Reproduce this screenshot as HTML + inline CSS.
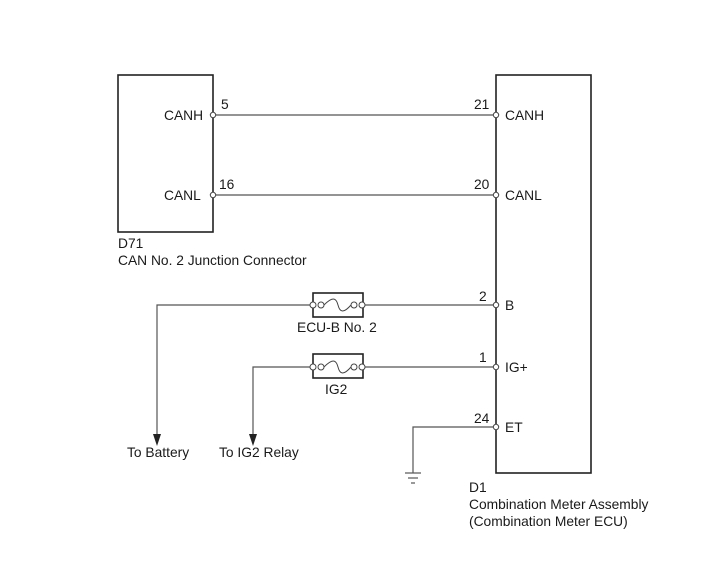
<!DOCTYPE html>
<html><head><meta charset="utf-8"><style>
html,body{margin:0;padding:0;background:#fff;}
svg{display:block;}
text{font-family:"Liberation Sans",Arial,sans-serif;font-size:13.8px;fill:#1a1a1a;}
</style></head><body>
<svg width="713" height="581" viewBox="0 0 713 581" xmlns="http://www.w3.org/2000/svg">
<g fill="none" stroke="#222" stroke-width="1.6">
<rect x="118" y="75" width="95" height="157"/>
<rect x="496" y="75" width="95" height="398"/>
</g>
<g fill="none" stroke="#555" stroke-width="1.2">
<line x1="216" y1="115" x2="493" y2="115"/>
<line x1="216" y1="195" x2="493" y2="195"/>
<line x1="365" y1="305" x2="493" y2="305"/>
<polyline points="310,305 157,305 157,436"/>
<line x1="365" y1="367" x2="493" y2="367"/>
<polyline points="310,367 253,367 253,436"/>
<polyline points="493,427 413,427 413,473"/>
<line x1="405" y1="473" x2="421" y2="473"/>
<line x1="408" y1="478" x2="418" y2="478"/>
<line x1="411" y1="483" x2="415" y2="483"/>
</g>
<g fill="#222">
<polygon points="153,434 161,434 157,446"/>
<polygon points="249,434 257,434 253,446"/>
</g>
<g fill="none" stroke="#222" stroke-width="1.6">
<rect x="313" y="293" width="50" height="24"/>
<rect x="313" y="354" width="50" height="24"/>
</g>
<g fill="#fff" stroke="#444" stroke-width="1">
<circle cx="313" cy="305" r="3"/><circle cx="321" cy="305" r="3"/>
<circle cx="354" cy="305" r="3"/><circle cx="362" cy="305" r="3"/>
<circle cx="313" cy="367" r="3"/><circle cx="321" cy="367" r="3"/>
<circle cx="354" cy="367" r="3"/><circle cx="362" cy="367" r="3"/>
<circle cx="213" cy="115" r="2.7"/><circle cx="213" cy="195" r="2.7"/>
<circle cx="496" cy="115" r="2.7"/><circle cx="496" cy="195" r="2.7"/>
<circle cx="496" cy="305" r="2.7"/><circle cx="496" cy="367" r="2.7"/>
<circle cx="496" cy="427" r="2.7"/>
</g>
<g fill="none" stroke="#444" stroke-width="1">
<path d="M324,305 C332,297 336,297 338,305 C340,313 344,313 351,305"/>
<path d="M324,367 C332,359 336,359 338,367 C340,375 344,375 351,367"/>
</g>
<text x="164" y="120">CANH</text>
<text x="164" y="200">CANL</text>
<text x="221" y="109">5</text>
<text x="219" y="189">16</text>
<text x="474" y="109">21</text>
<text x="474" y="189">20</text>
<text x="505" y="120">CANH</text>
<text x="505" y="200">CANL</text>
<text x="118" y="248">D71</text>
<text x="118" y="265">CAN No. 2 Junction Connector</text>
<text x="479" y="301">2</text>
<text x="505" y="310">B</text>
<text x="479" y="362">1</text>
<text x="505" y="372">IG+</text>
<text x="474" y="423">24</text>
<text x="505" y="432">ET</text>
<text x="297" y="332">ECU-B No. 2</text>
<text x="325" y="394">IG2</text>
<text x="127" y="457">To Battery</text>
<text x="219" y="457">To IG2 Relay</text>
<text x="469" y="492">D1</text>
<text x="469" y="509">Combination Meter Assembly</text>
<text x="469" y="526">(Combination Meter ECU)</text>
</svg>
</body></html>
